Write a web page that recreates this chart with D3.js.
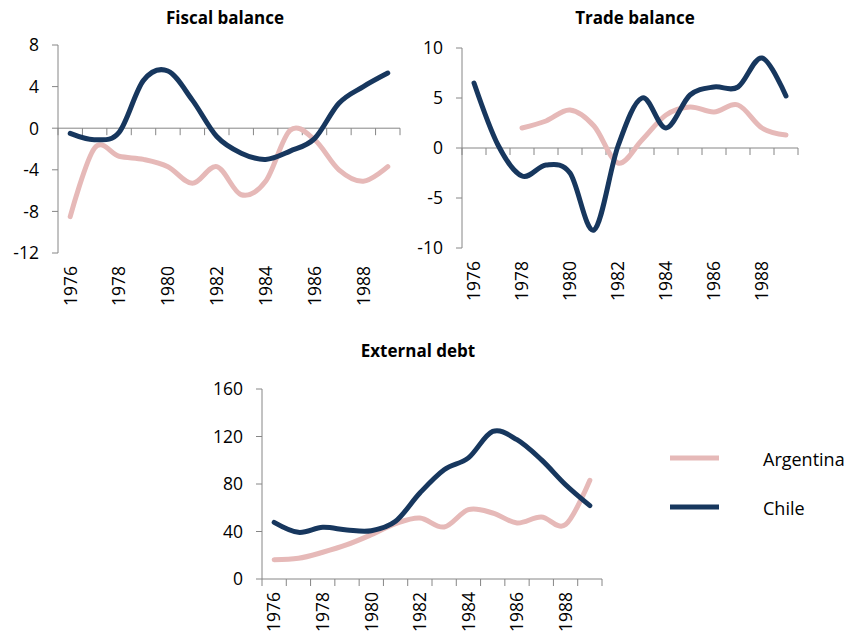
<!DOCTYPE html>
<html>
<head>
<meta charset="utf-8">
<script src="https://cdn.jsdelivr.net/npm/d3@7"></script>
<style>
  body { margin: 0; background: #fff; }
  svg { display: block; font-family: "Open Sans", Lato, sans-serif; }
  .tick-label { font-size: 17.5px; fill: #000; }
  .title { font-size: 17px; font-weight: bold; fill: #000; }
  .legend-label { font-size: 18px; fill: #000; }
</style>
</head>
<body>
<svg id="chart" width="846" height="637"></svg>
<script>
const years = [1976, 1977, 1978, 1979, 1980, 1981, 1982, 1983, 1984, 1985, 1986, 1987, 1988, 1989];
const yearLabels = [1976, 1978, 1980, 1982, 1984, 1986, 1988];

const fiscalArgentina = [-8.5, -1.9, -2.7, -3.0, -3.7, -5.3, -3.7, -6.4, -5.1, -0.2, -1.1, -4.0, -5.1, -3.7];
const fiscalChile = [-0.5, -1.1, -0.4, 4.6, 5.5, 2.7, -0.8, -2.4, -3.0, -2.2, -1.0, 2.4, 4.0, 5.3];
const fiscalTicks = [-12, -8, -4, 0, 4, 8];

const tradeArgentina = [null, null, 2.0, 2.7, 3.8, 2.2, -1.5, 0.8, 3.3, 4.1, 3.6, 4.3, 2.0, 1.3];
const tradeChile = [6.5, 0.3, -2.8, -1.7, -2.5, -8.2, 0.2, 5.0, 2.0, 5.3, 6.1, 6.1, 9.0, 5.2];
const tradeTicks = [-10, -5, 0, 5, 10];

const debtArgentina = [16.3, 17.4, 22.5, 28.9, 37.3, 46.6, 51.4, 43.8, 58.4, 55.6, 47.2, 52.2, 45.8, 83.1];
const debtChile = [47.7, 39.3, 43.5, 41.3, 40.7, 48.6, 72.4, 92, 102, 124.3, 117.3, 100.5, 79.4, 61.8];
const debtTicks = [0, 40, 80, 120, 160];

const seriesNames = ['Argentina', 'Chile'];
const colors = { Argentina: '#E6B9B8', Chile: '#17375E' };
const axisColor = '#868686';

const svg = d3.select('#chart');

function drawPanel(opts) {
    const g = svg.append('g');
    const x = d3.scaleBand().domain(years).range([opts.left, opts.right]);
    const y = d3.scaleLinear().domain(d3.extent(opts.ticks)).range([opts.bottom, opts.top]);
    const zeroY = y(0);

    // y axis
    g.append('line')
        .attr('x1', opts.left).attr('x2', opts.left)
        .attr('y1', opts.top).attr('y2', opts.bottom)
        .attr('stroke', axisColor).attr('stroke-width', 1);
    g.selectAll('.ytick').data(opts.ticks).join('line').classed('ytick', true)
        .attr('x1', opts.left - 6).attr('x2', opts.left)
        .attr('y1', d => y(d)).attr('y2', d => y(d))
        .attr('stroke', axisColor).attr('stroke-width', 1);
    g.selectAll('.ylabel').data(opts.ticks).join('text').classed('ylabel tick-label', true)
        .attr('x', opts.left - 19).attr('y', d => y(d))
        .attr('dy', '0.36em')
        .attr('text-anchor', 'end')
        .text(d => d);

    // x axis sits on zero
    g.append('line')
        .attr('x1', opts.left).attr('x2', opts.right)
        .attr('y1', zeroY).attr('y2', zeroY)
        .attr('stroke', axisColor).attr('stroke-width', 1);
    const edges = years.map(yr => x(yr)).concat([opts.right]);
    g.selectAll('.xtick').data(edges).join('line').classed('xtick', true)
        .attr('x1', d => d).attr('x2', d => d)
        .attr('y1', zeroY).attr('y2', zeroY + 7)
        .attr('stroke', axisColor).attr('stroke-width', 1);
    g.selectAll('.xlabel').data(yearLabels).join('text').classed('xlabel tick-label', true)
        .attr('transform', d => `translate(${x(d) + x.bandwidth() / 2}, ${opts.bottom + 13}) rotate(-90)`)
        .attr('dy', '0.36em')
        .attr('text-anchor', 'end')
        .text(d => d);

    // title
    g.append('text').classed('title', true)
        .attr('x', opts.titleX).attr('y', opts.titleY)
        .attr('text-anchor', 'middle')
        .text(opts.title);

    const line = d3.line()
        .defined(d => d[1] != null)
        .x(d => x(d[0]) + x.bandwidth() / 2)
        .y(d => y(d[1]))
        .curve(d3.curveCatmullRom.alpha(0));

    opts.series.forEach((values, i) => {
        g.append('path')
            .attr('d', line(years.map((yr, j) => [yr, values[j]])))
            .attr('fill', 'none')
            .attr('stroke', colors[seriesNames[i]])
            .attr('stroke-width', 5)
            .attr('stroke-linejoin', 'round')
            .attr('stroke-linecap', 'round');
    });
}

drawPanel({
    title: 'Fiscal balance', titleX: 225, titleY: 24,
    left: 58, right: 400, top: 45, bottom: 253,
    ticks: fiscalTicks, series: [fiscalArgentina, fiscalChile]
});
drawPanel({
    title: 'Trade balance', titleX: 635, titleY: 24,
    left: 462, right: 798, top: 48, bottom: 248,
    ticks: tradeTicks, series: [tradeArgentina, tradeChile]
});
drawPanel({
    title: 'External debt', titleX: 418, titleY: 357,
    left: 262, right: 602, top: 389, bottom: 579,
    ticks: debtTicks, series: [debtArgentina, debtChile]
});

// legend
const legend = svg.append('g');
const legendY = d3.scalePoint().domain(seriesNames).range([458, 507]);
legend.selectAll('line').data(seriesNames).join('line')
    .attr('x1', 670).attr('x2', 719)
    .attr('y1', d => legendY(d)).attr('y2', d => legendY(d))
    .attr('stroke', d => colors[d]).attr('stroke-width', 5);
legend.selectAll('text').data(seriesNames).join('text').classed('legend-label', true)
    .attr('x', 763).attr('y', d => legendY(d) + 2)
    .attr('dy', '0.36em')
    .text(d => d);
</script>
</body>
</html>
